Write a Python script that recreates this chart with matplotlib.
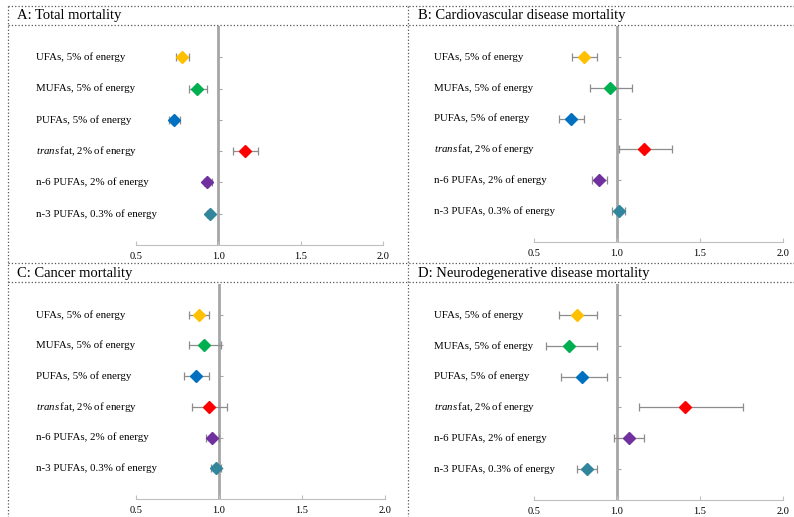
import matplotlib
matplotlib.use('Agg')
import matplotlib.pyplot as plt
from matplotlib.lines import Line2D
from matplotlib.transforms import blended_transform_factory

plt.rcParams['font.family'] = ['Liberation Serif', 'DejaVu Serif']
plt.rcParams['mathtext.fontset'] = 'custom'
plt.rcParams['mathtext.rm'] = 'Liberation Serif'
plt.rcParams['mathtext.it'] = 'Liberation Serif:italic'

# 항목 이름과 색
labels = ['UFAs, 5% of energy', 'MUFAs, 5% of energy', 'PUFAs, 5% of energy',
          r'$\mathit{trans}\,$fat, 2% of energy', 'n-6 PUFAs, 2% of energy',
          'n-3 PUFAs, 0.3% of energy']
colors = ['#FFC000', '#00B050', '#0070C0', '#FF0000', '#7030A0', '#31859C']

titles = ['A: Total mortality', 'B: Cardiovascular disease mortality',
          'C: Cancer mortality', 'D: Neurodegenerative disease mortality']

# HR 및 95% CI
total_hr = [0.78, 0.87, 0.73, 1.16, 0.93, 0.95]
total_lo = [0.74, 0.82, 0.70, 1.09, 0.91, 0.93]
total_hi = [0.82, 0.93, 0.77, 1.24, 0.96, 0.96]

cvd_hr = [0.80, 0.96, 0.72, 1.16, 0.89, 1.01]
cvd_lo = [0.73, 0.84, 0.65, 1.01, 0.85, 0.97]
cvd_hi = [0.88, 1.09, 0.80, 1.33, 0.94, 1.05]

cancer_hr = [0.88, 0.91, 0.86, 0.94, 0.96, 0.98]
cancer_lo = [0.82, 0.82, 0.79, 0.84, 0.92, 0.95]
cancer_hi = [0.94, 1.01, 0.94, 1.05, 1.00, 1.01]

neuro_hr = [0.76, 0.71, 0.79, 1.41, 1.07, 0.82]
neuro_lo = [0.65, 0.57, 0.66, 1.13, 0.98, 0.76]
neuro_hi = [0.88, 0.88, 0.94, 1.76, 1.16, 0.88]

xticks = [0.5, 1.0, 1.5, 2.0]

panels = [(total_hr, total_lo, total_hi), (cvd_hr, cvd_lo, cvd_hi),
          (cancer_hr, cancer_lo, cancer_hi), (neuro_hr, neuro_lo, neuro_hi)]

W, H = 794, 517
fig = plt.figure(figsize=(W / 100, H / 100), dpi=100)

# 축 위치 (픽셀: left, top, right, bottom), 제목 x 위치
boxes = [(136, 26, 383, 245), (534, 26, 783, 242),
         (136, 284, 385, 499), (534, 284, 783, 500)]
title_x = [17, 418, 17, 418]

for (hr, lo, hi), box, title, tx in zip(panels, boxes, titles, title_x):
    l, t, r, b = box
    ax = fig.add_axes([l / W, (H - b) / H, (r - l) / W, (b - t) / H])
    ys = list(range(len(labels), 0, -1))
    ax.set_xlim(0.5, 2.0)
    ax.set_ylim(0, 7)
    ax.axvline(1.0, color='#A6A6A6', lw=2, zorder=1)
    for y, h, a, c, col in zip(ys, hr, lo, hi, colors):
        ax.errorbar(h, y, xerr=[[h - a], [c - h]], fmt='D', color=col,
                    ms=6, ecolor='#8C8C8C', elinewidth=0.9, capsize=3,
                    capthick=0.9, zorder=3)
    for s in ['top', 'right']:
        ax.spines[s].set_visible(False)
    ax.spines['left'].set_position(('data', 1.0))
    ax.spines['left'].set_visible(False)
    ax.spines['bottom'].set_color('#BFBFBF')
    ax.set_xticks(xticks)
    ax.set_xticklabels([f'{v:.1f}' for v in xticks])
    ax.tick_params(axis='x', direction='in', length=3, color='#BFBFBF',
                   labelsize=7.5, pad=5)
    ax.set_yticks(ys)
    ax.tick_params(axis='y', direction='in', length=3, color='#A6A6A6',
                   labelleft=False)
    ax.patch.set_visible(False)
    trans = blended_transform_factory(ax.transAxes, ax.transData)
    for y, lab in zip(ys, labels):
        ax.text(-100 / (r - l), y, lab, transform=trans, ha='left',
                va='center', fontsize=7.8)
    fig.text(tx / W, 1 - (t - 10.5) / H, title, ha='left',
             va='center', fontsize=10.5)

# 점선 테두리
def hline(y, x0=8, x1=794):
    fig.add_artist(Line2D([x0 / W, x1 / W], [1 - y / H, 1 - y / H],
                          transform=fig.transFigure, ls=':', lw=0.9,
                          color='#555555'))

def vline(x, y0=6, y1=517):
    fig.add_artist(Line2D([x / W, x / W], [1 - y0 / H, 1 - y1 / H],
                          transform=fig.transFigure, ls=':', lw=0.9,
                          color='#555555'))

hline(6)
hline(25)
hline(263)
hline(282)
vline(8)
vline(408)

fig.savefig('out.png', dpi=100)
